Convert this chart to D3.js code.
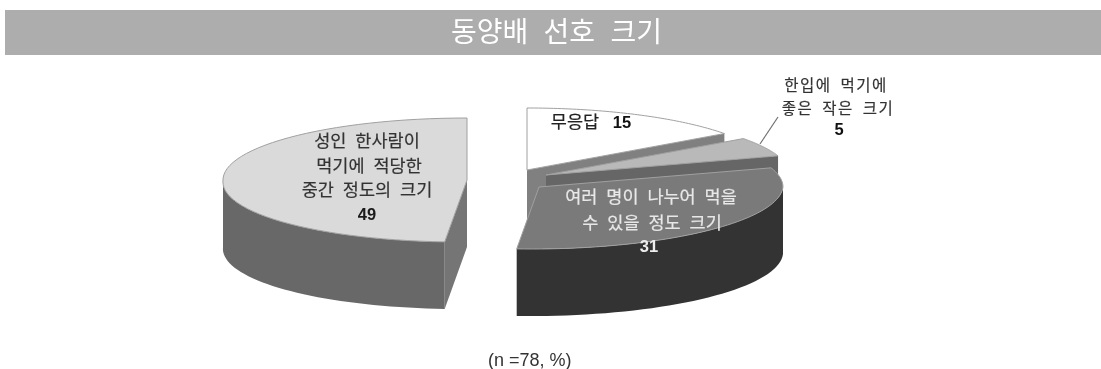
<!DOCTYPE html>
<html><head><meta charset="utf-8">
<script src="https://cdn.jsdelivr.net/npm/d3@7/dist/d3.min.js"></script>
<style>html,body{margin:0;background:#fff}svg{display:block;filter:blur(0.45px)}text{font-family:"Noto Sans CJK KR","Noto Sans",sans-serif}</style>
</head><body>
<svg id="c" width="1101" height="369"></svg>
<script>
const titleText = "동양배 선호 크기";
const noteText = "(n =78, %)";
const categories = ["무응답", "한입에 먹기에 좋은 작은 크기", "여러 명이 나누어 먹을 수 있을 정도 크기", "성인 한사람이 먹기에 적당한 중간 정도의 크기"];
const values = [15, 5, 31, 49];
const topColors = ["#ffffff", "#b9b9b9", "#7a7a7a", "#dadada"];
const wallColors = ["#808080", "#666666", "#333333", "#686868"];
const faceColors = ["#808080", "#666666", "#333333", "#757575"];
const apexX = [527, 546, 539, 467];
const apexY = [170, 175, 187, 180];

const W = 1101, H = 369, rx = 244, ry = 62, depth = 67, lean = 7;
const svg = d3.select("#c");
svg.append("rect").attr("x",5).attr("y",10).attr("width",W-5).attr("height",45).attr("fill","#adadad");
svg.append("text").attr("x",556.5).attr("y",42).attr("text-anchor","middle").attr("fill","#fff")
   .attr("font-size",28).attr("word-spacing",9).text(titleText);

const pie = d3.pie().sort(null).value(d=>d)(values);
// the lower half of the disc leans a little to the left, as in a perspective view
const px = (i,a)=>apexX[i]+rx*Math.sin(a)-lean*Math.max(0,-Math.cos(a));
const py = (i,a)=>apexY[i]-ry*Math.cos(a);
const line = d3.line();

pie.forEach((p,i)=>{
  const g = svg.append("g");
  const a1=p.startAngle,a2=p.endAngle;
  [[a2,Math.sin(a2)>1e-6],[a1,Math.sin(a1)<-1e-6]].forEach(([a,vis])=>{
    if(!vis) return;
    const x0=apexX[i],y0=apexY[i],x1=px(i,a),y1=py(i,a);
    g.append("path").attr("fill",faceColors[i])
     .attr("d",line([[x0,y0],[x1,y1],[x1,y1+depth],[x0,y0+depth]])+"Z");
  });
  const lo=Math.max(a1,Math.PI/2),hi=Math.min(a2,Math.PI*1.5);
  if(hi>lo){
    const s=d3.range(0,41).map(k=>lo+(hi-lo)*k/40);
    const pts=s.map(a=>[px(i,a),py(i,a)]).concat(s.slice().reverse().map(a=>[px(i,a),py(i,a)+depth]));
    g.append("path").attr("fill",wallColors[i]).attr("d",line(pts)+"Z");
  }
  const t=d3.range(0,61).map(k=>a1+(a2-a1)*k/60).map(a=>[px(i,a),py(i,a)]);
  g.append("path").attr("d",line([[apexX[i],apexY[i]],...t])+"Z").attr("fill",topColors[i])
   .attr("stroke","#a0a0a0").attr("stroke-width",1);
});

svg.append("line").attr("x1",760).attr("y1",144).attr("x2",778).attr("y2",117).attr("stroke","#707070").attr("stroke-width",1.2);

function lbl(x,y,t,fill,size,ls){
  svg.append("text").attr("x",x).attr("y",y).attr("text-anchor","middle").attr("fill",fill)
     .attr("stroke",fill).attr("stroke-width",0.2)
     .attr("font-size",size||17.5).attr("letter-spacing",ls||0).attr("word-spacing",ls?4:5).text(t);
}
function num(x,y,t,fill){
  svg.append("text").attr("x",x).attr("y",y).attr("text-anchor","middle").attr("fill",fill)
     .style("font-family","'Liberation Sans',sans-serif").attr("font-size",16.5).attr("font-weight",700).text(t);
}
lbl(367,147,"성인 한사람이","#333");
lbl(369,172,"먹기에 적당한","#333");
lbl(367,196,"중간 정도의 크기","#333");
num(367,220,values[3],"#1a1a1a");
lbl(575,128,categories[0],"#222");
num(622,128,values[0],"#111");
lbl(836,91,"한입에 먹기에","#333",15.5,1.5);
lbl(838,114,"좋은 작은 크기","#333",15.5,1.5);
num(839,135,values[1],"#111");
lbl(651,203,"여러 명이 나누어 먹을","#e8e8e8");
lbl(652,229,"수 있을 정도 크기","#e8e8e8");
num(649,252,values[2],"#eee");
svg.append("text").attr("x",488).attr("y",366).attr("fill","#333")
   .style("font-family","'Liberation Sans',sans-serif").attr("font-size",18).text(noteText);
</script>
</body></html>
